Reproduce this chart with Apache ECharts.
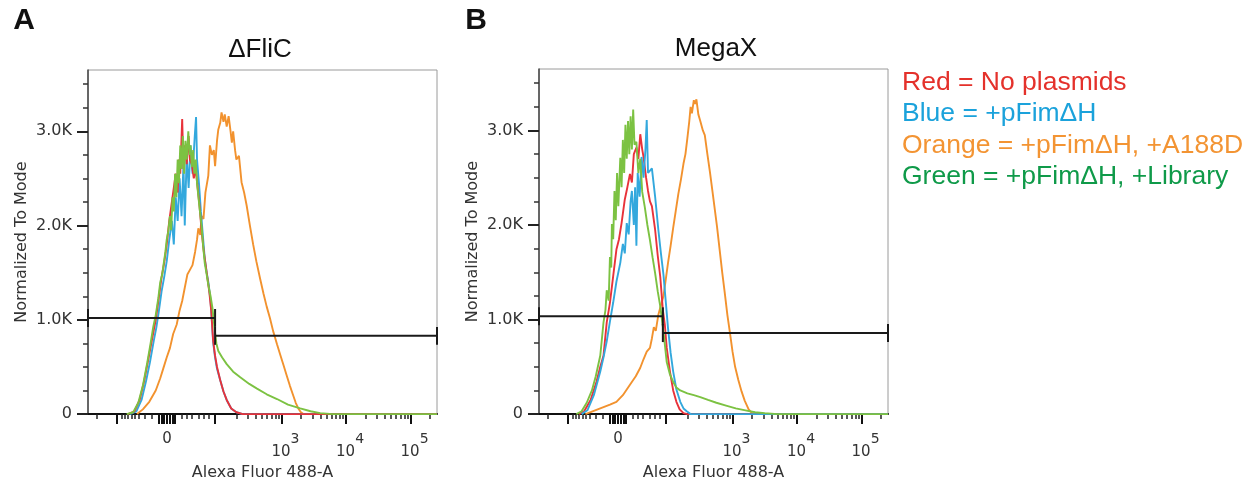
<!DOCTYPE html>
<html>
<head>
<meta charset="utf-8">
<script src="https://cdn.jsdelivr.net/npm/echarts@6/dist/echarts.min.js"></script>
<style>
  html, body { margin: 0; padding: 0; background: #fff; }
  #chart { width: 1254px; height: 486px; }
</style>
</head>
<body>
<div id="chart"></div>
<script>
// ---------- axis ticks / labels (display units: decades, 10^3 at 3) ----------
const xMin = 0, xMax = 5.41;
const yMin = 0, yMax = 3.65; // thousands
const xMajorTicks = [0.445, 1.10, 1.14, 1.18, 1.225, 1.27, 1.31, 1.35, 1.97, 3, 4, 5];
const xMinorTicks = [0.135, 0.52, 0.57, 0.62, 0.68, 0.73, 0.78, 0.88, 0.99,
  1.45, 1.53, 1.61, 1.71, 1.79, 1.87,
  2.301, 2.477, 2.602, 2.699, 2.778, 2.845, 2.903, 2.954,
  3.301, 3.477, 3.602, 3.699, 3.778, 3.845, 3.903, 3.954,
  4.301, 4.477, 4.602, 4.699, 4.778, 4.845, 4.903, 4.954, 5.301];
const xLabelValues = [1.225, 3, 4, 5];
const xLabelTexts = ['0', '10^3', '10^4', '10^5'];
const yMajorTicks = [0, 1, 2, 3];
const yLabelTexts = ['0', '1.0K', '2.0K', '3.0K'];
const yMinorTicks = [0.25, 0.5, 0.75, 1.25, 1.5, 1.75, 2.25, 2.5, 2.75, 3.25, 3.5];

const panelTitles = ['\u0394FliC', 'MegaX'];
const panelLetters = ['A', 'B'];
const xAxisName = 'Alexa Fluor 488-A';
const yAxisName = 'Normalized To Mode';
const legendLines = ['Red = No plasmids', 'Blue = +pFim\u0394H', 'Orange = +pFim\u0394H, +A188D', 'Green = +pFim\u0394H, +Library'];

// ---------- Panel A (ΔFliC) ----------
const aRedX = [0.62,0.72,0.80,0.87,0.94,1.00,1.05,1.10,1.14,1.18,1.22,1.26,1.30,1.33,1.36,1.39,1.41,1.43,1.46,1.48,1.50,1.53,1.56,1.58,1.61,1.64,1.67,1.70,1.73,1.76,1.79,1.82,1.85,1.88,1.91,1.94,1.97,2.00,2.05,2.10,2.15,2.22,2.30,2.40,5.41];
const aRedY = [0,0.03,0.15,0.35,0.60,0.82,1.00,1.25,1.45,1.60,1.80,2.05,2.25,2.40,2.55,2.35,2.70,2.55,3.13,2.60,2.85,2.65,2.95,2.70,2.65,2.50,2.60,2.40,2.20,1.95,1.75,1.60,1.45,1.30,1.10,0.78,0.62,0.50,0.36,0.24,0.15,0.06,0.02,0,0];
const aBlueX = [0.65,0.75,0.83,0.90,0.96,1.02,1.06,1.10,1.14,1.18,1.22,1.26,1.30,1.33,1.36,1.39,1.42,1.45,1.48,1.50,1.53,1.56,1.59,1.62,1.655,1.675,1.69,1.72,1.75,1.78,1.81,1.84,1.87,1.90,1.94,1.97,2.00,2.05,2.10,2.15,2.22,2.30,2.40,5.41];
const aBlueY = [0,0.03,0.15,0.35,0.55,0.78,0.92,1.10,1.30,1.45,1.62,1.85,2.05,1.80,2.30,2.05,2.50,2.10,2.65,2.00,2.75,2.40,2.85,2.55,2.95,3.15,2.70,2.45,2.15,1.90,1.65,1.50,1.38,1.20,0.76,0.60,0.48,0.36,0.24,0.15,0.06,0.02,0,0];
const aOrangeX = [0.76,0.85,0.95,1.05,1.12,1.17,1.22,1.27,1.32,1.375,1.42,1.46,1.50,1.54,1.58,1.62,1.66,1.69,1.71,1.74,1.76,1.79,1.82,1.865,1.89,1.92,1.95,1.97,2.00,2.02,2.05,2.07,2.10,2.12,2.15,2.18,2.21,2.23,2.25,2.28,2.30,2.34,2.38,2.42,2.46,2.51,2.56,2.61,2.67,2.72,2.77,2.82,2.87,2.93,2.98,3.03,3.08,3.13,3.18,3.22,3.26,3.30,3.34,5.41];
const aOrangeY = [0,0.05,0.13,0.25,0.38,0.49,0.60,0.70,0.85,0.95,1.10,1.20,1.34,1.48,1.53,1.58,1.72,1.85,1.97,1.90,2.10,2.07,2.35,2.53,2.85,2.75,2.80,2.63,2.90,3.02,3.09,3.20,3.10,3.18,3.05,3.16,3.00,2.88,3.00,2.80,2.70,2.74,2.46,2.35,2.21,2.00,1.80,1.62,1.43,1.28,1.14,1.02,0.88,0.74,0.63,0.52,0.41,0.30,0.20,0.12,0.06,0.02,0,0];
const aGreenX = [0.60,0.70,0.78,0.85,0.92,0.97,1.01,1.05,1.09,1.12,1.15,1.17,1.20,1.22,1.245,1.27,1.29,1.31,1.33,1.35,1.37,1.39,1.41,1.43,1.45,1.47,1.49,1.51,1.53,1.555,1.575,1.59,1.61,1.63,1.65,1.67,1.69,1.71,1.735,1.76,1.785,1.81,1.835,1.865,1.90,1.93,1.96,1.99,2.02,2.08,2.15,2.25,2.36,2.50,2.62,2.77,2.93,3.10,3.29,3.45,3.60,3.80,5.41];
const aGreenY = [0,0.02,0.12,0.30,0.55,0.75,0.92,1.05,1.23,1.40,1.48,1.58,1.72,1.85,1.94,2.10,1.95,2.30,2.15,2.55,2.30,2.70,2.45,2.85,2.60,2.95,2.55,2.90,2.70,3.00,2.75,2.85,2.62,2.80,2.55,2.70,2.45,2.46,2.15,2.00,1.78,1.60,1.50,1.37,1.25,1.12,0.92,0.75,0.67,0.60,0.53,0.45,0.39,0.32,0.27,0.21,0.16,0.10,0.06,0.03,0.01,0,0];
const aGateLow = { x0: 0, x1: 1.97, y: 1.02 };
const aGateHigh = { x0: 1.97, x1: 5.41, y: 0.83 };

// ---------- Panel B (MegaX) ----------
const bRedX = [0.62,0.70,0.80,0.89,0.95,1.00,1.05,1.10,1.15,1.20,1.24,1.28,1.33,1.37,1.41,1.44,1.47,1.51,1.54,1.57,1.60,1.62,1.66,1.69,1.72,1.75,1.80,1.84,1.88,1.92,1.95,1.98,2.03,2.08,2.13,2.18,2.24,2.30,5.41];
const bRedY = [0,0.03,0.15,0.34,0.50,0.62,0.97,1.18,1.46,1.74,1.85,2.02,2.27,2.40,2.54,2.45,2.75,2.82,2.70,2.96,2.80,2.72,2.50,2.36,2.25,2.20,1.95,1.68,1.45,1.10,0.95,0.70,0.45,0.25,0.13,0.05,0.01,0,0];
const bBlueX = [0.66,0.75,0.85,0.95,1.00,1.05,1.10,1.15,1.20,1.26,1.30,1.33,1.36,1.39,1.42,1.44,1.47,1.49,1.51,1.53,1.56,1.59,1.62,1.65,1.67,1.69,1.72,1.75,1.77,1.80,1.85,1.89,1.93,1.97,2.00,2.04,2.08,2.13,2.19,2.24,2.29,2.35,5.41];
const bBlueY = [0,0.04,0.20,0.45,0.60,0.77,0.98,1.18,1.40,1.60,1.80,1.70,2.02,1.90,2.25,2.36,2.00,2.40,1.78,2.55,2.30,2.72,2.50,2.80,3.11,2.55,2.54,2.60,2.58,2.30,1.95,1.70,1.47,1.15,0.91,0.65,0.45,0.26,0.13,0.06,0.03,0,0];
const bOrangeX = [0.72,0.80,0.95,1.10,1.20,1.30,1.41,1.50,1.57,1.62,1.67,1.72,1.75,1.78,1.81,1.85,1.89,1.93,1.97,2.00,2.04,2.08,2.12,2.16,2.20,2.24,2.27,2.30,2.33,2.35,2.37,2.40,2.42,2.44,2.47,2.50,2.54,2.57,2.61,2.65,2.69,2.73,2.76,2.80,2.84,2.88,2.92,2.96,3.00,3.04,3.09,3.14,3.19,3.25,3.30,3.35,5.41];
const bOrangeY = [0,0.02,0.06,0.10,0.13,0.20,0.31,0.40,0.49,0.58,0.66,0.70,0.80,0.92,0.88,1.05,1.15,1.25,1.45,1.60,1.78,1.97,2.15,2.33,2.48,2.65,2.75,2.92,3.10,3.25,3.18,3.32,3.28,3.33,3.17,3.10,3.00,2.95,2.75,2.56,2.35,2.14,1.98,1.74,1.50,1.28,1.05,0.86,0.66,0.50,0.36,0.24,0.14,0.05,0.01,0,0];
const bGreenX = [0.58,0.66,0.74,0.82,0.88,0.95,1.00,1.03,1.05,1.08,1.10,1.12,1.13,1.15,1.17,1.19,1.21,1.23,1.26,1.28,1.30,1.32,1.34,1.36,1.38,1.40,1.42,1.44,1.46,1.48,1.51,1.54,1.57,1.60,1.64,1.68,1.72,1.76,1.80,1.84,1.88,1.93,1.98,2.03,2.08,2.13,2.19,2.30,2.40,2.50,2.62,2.75,2.90,3.05,3.20,3.35,3.50,3.70,5.41];
const bGreenY = [0,0.03,0.12,0.25,0.40,0.62,0.97,1.10,1.31,1.20,1.66,1.55,2.01,1.85,2.36,2.05,2.55,2.20,2.71,2.40,2.90,2.55,3.06,2.70,3.10,2.75,3.15,2.80,3.22,2.85,2.88,2.55,2.70,2.35,2.19,2.00,1.84,1.66,1.49,1.30,1.14,0.87,0.55,0.42,0.34,0.28,0.25,0.22,0.20,0.18,0.15,0.12,0.09,0.06,0.04,0.02,0.01,0,0];
const bGateLow = { x0: 0, x1: 1.92, y: 1.034 };
const bGateHigh = { x0: 1.92, x1: 5.41, y: 0.857 };

// ---------- styles ----------
const C_RED = '#e8323a', C_BLUE = '#33a8dd', C_ORANGE = '#f2922e', C_GREEN = '#7cc242';
const LEG_COLORS = ['#e4312b', '#1ba2db', '#f39433', '#0f9a49'];
const TICK_FONT = 'DejaVu Sans';
const CAP_HALF = 0.095;

const grids = [
  { left: 88, top: 70, width: 349, height: 347 },
  { left: 539, top: 69, width: 349, height: 347 }
];

function zip(xs, ys) { return xs.map((x, i) => [x, ys[i]]); }

function xLabelFmt(v) {
  const i = xLabelValues.findIndex(t => Math.abs(t - v) < 1e-6);
  if (i < 0) return '';
  const t = xLabelTexts[i];
  if (t.indexOf('^') >= 0) {
    const p = t.split('^');
    return '{b|' + p[0] + '}{s|' + p[1] + '}';
  }
  return '{z|' + t + '}';
}
function yLabelFmt(v) {
  const i = yMajorTicks.findIndex(t => Math.abs(t - v) < 1e-6);
  return i < 0 ? '' : yLabelTexts[i];
}

const xAxes = [], yAxes = [];
grids.forEach((g, gi) => {
  xAxes.push({
    type: 'value', gridIndex: gi, min: xMin, max: xMax, position: 'bottom',
    name: xAxisName, nameLocation: 'middle', nameGap: 35,
    nameTextStyle: { fontFamily: TICK_FONT, fontSize: 16, color: '#333' },
    axisLine: { show: true, onZero: false, lineStyle: { color: '#111', width: 2 } },
    axisTick: { show: true, customValues: xMajorTicks, length: 10, lineStyle: { color: '#111', width: 2 } },
    axisLabel: {
      show: true, customValues: xLabelValues, formatter: xLabelFmt, margin: 18,
      rich: {
        b: { fontFamily: TICK_FONT, fontSize: 15, color: '#333', lineHeight: 28, verticalAlign: 'bottom', padding: [0, 0, 0, 8] },
        s: { fontFamily: TICK_FONT, fontSize: 14, color: '#333', lineHeight: 28, verticalAlign: 'top' },
        z: { fontFamily: TICK_FONT, fontSize: 15, color: '#333', lineHeight: 28, verticalAlign: 'top' }
      }
    },
    splitLine: { show: false }
  });
  xAxes.push({
    type: 'value', gridIndex: gi, min: xMin, max: xMax, position: 'bottom',
    axisLine: { show: true, onZero: false, lineStyle: { color: 'rgba(0,0,0,0)', width: 0 } },
    axisTick: { show: true, customValues: xMinorTicks, length: 5, lineStyle: { color: '#222', width: 1.5 } },
    axisLabel: { show: false }, splitLine: { show: false }
  });
  yAxes.push({
    type: 'value', gridIndex: gi, min: yMin, max: yMax, position: 'left',
    name: yAxisName, nameLocation: 'middle', nameGap: 58, nameRotate: 90,
    nameTextStyle: { fontFamily: TICK_FONT, fontSize: 16, color: '#333' },
    axisLine: { show: true, onZero: false, lineStyle: { color: '#444', width: 1.5 } },
    axisTick: { show: true, customValues: yMajorTicks, length: 11, lineStyle: { color: '#222', width: 2 } },
    axisLabel: { show: true, customValues: yMajorTicks, formatter: yLabelFmt, margin: 16,
      fontFamily: TICK_FONT, fontSize: 16, color: '#333' },
    splitLine: { show: false }
  });
  yAxes.push({
    type: 'value', gridIndex: gi, min: yMin, max: yMax, position: 'left',
    axisLine: { show: true, onZero: false, lineStyle: { color: 'rgba(0,0,0,0)', width: 0 } },
    axisTick: { show: true, customValues: yMinorTicks, length: 5, lineStyle: { color: '#333', width: 1.5 } },
    axisLabel: { show: false }, splitLine: { show: false }
  });
});

function lineSeries(gi, xs, ys, color, z) {
  return {
    type: 'line', xAxisIndex: gi * 2, yAxisIndex: gi * 2, data: zip(xs, ys),
    showSymbol: false, symbol: 'none', z: z, silent: true,
    lineStyle: { color: color, width: 1.9 }
  };
}
function gateSeries(gi, gate) {
  const out = [];
  const seg = (pts) => ({
    type: 'line', xAxisIndex: gi * 2, yAxisIndex: gi * 2, data: pts, showSymbol: false,
    symbol: 'none', z: 10, silent: true, lineStyle: { color: '#1a1a1a', width: 2 }
  });
  out.push(seg([[gate.x0, gate.y], [gate.x1, gate.y]]));
  out.push(seg([[gate.x0, gate.y - CAP_HALF], [gate.x0, gate.y + CAP_HALF]]));
  out.push(seg([[gate.x1, gate.y - CAP_HALF], [gate.x1, gate.y + CAP_HALF]]));
  return out;
}

const series = [
  lineSeries(0, aOrangeX, aOrangeY, C_ORANGE, 2),
  lineSeries(0, aBlueX, aBlueY, C_BLUE, 3),
  lineSeries(0, aRedX, aRedY, C_RED, 4),
  lineSeries(0, aGreenX, aGreenY, C_GREEN, 5),
  ...gateSeries(0, aGateLow), ...gateSeries(0, aGateHigh),
  lineSeries(1, bOrangeX, bOrangeY, C_ORANGE, 2),
  lineSeries(1, bRedX, bRedY, C_RED, 3),
  lineSeries(1, bBlueX, bBlueY, C_BLUE, 4),
  lineSeries(1, bGreenX, bGreenY, C_GREEN, 5),
  ...gateSeries(1, bGateLow), ...gateSeries(1, bGateHigh)
];

const graphics = [];
graphics.push({ type: 'text', x: 24, y: 21, style: { text: panelLetters[0], font: 'bold 30px "Liberation Sans"', fill: '#111', textAlign: 'center', textVerticalAlign: 'middle' } });
graphics.push({ type: 'text', x: 476, y: 21, style: { text: panelLetters[1], font: 'bold 30px "Liberation Sans"', fill: '#111', textAlign: 'center', textVerticalAlign: 'middle' } });
graphics.push({ type: 'text', x: 260, y: 50, style: { text: panelTitles[0], font: '26px "Liberation Sans"', fill: '#111', textAlign: 'center', textVerticalAlign: 'middle' } });
graphics.push({ type: 'text', x: 716, y: 49, style: { text: panelTitles[1], font: '26px "Liberation Sans"', fill: '#111', textAlign: 'center', textVerticalAlign: 'middle' } });
const legendY = [83, 114, 146, 177];
legendLines.forEach((t, i) => {
  graphics.push({ type: 'text', x: 902, y: legendY[i], style: { text: t, font: '26.5px "Liberation Sans"', fill: LEG_COLORS[i], textAlign: 'left', textVerticalAlign: 'middle' } });
});

const chart = echarts.init(document.getElementById('chart'), null, { renderer: 'canvas' });
chart.setOption({
  animation: false,
  backgroundColor: '#ffffff',
  grid: grids.map(g => Object.assign({ show: true, borderColor: '#9a9a9a', borderWidth: 1, backgroundColor: 'transparent', containLabel: false }, g)),
  xAxis: xAxes,
  yAxis: yAxes,
  series: series,
  graphic: graphics
});
</script>
</body>
</html>
